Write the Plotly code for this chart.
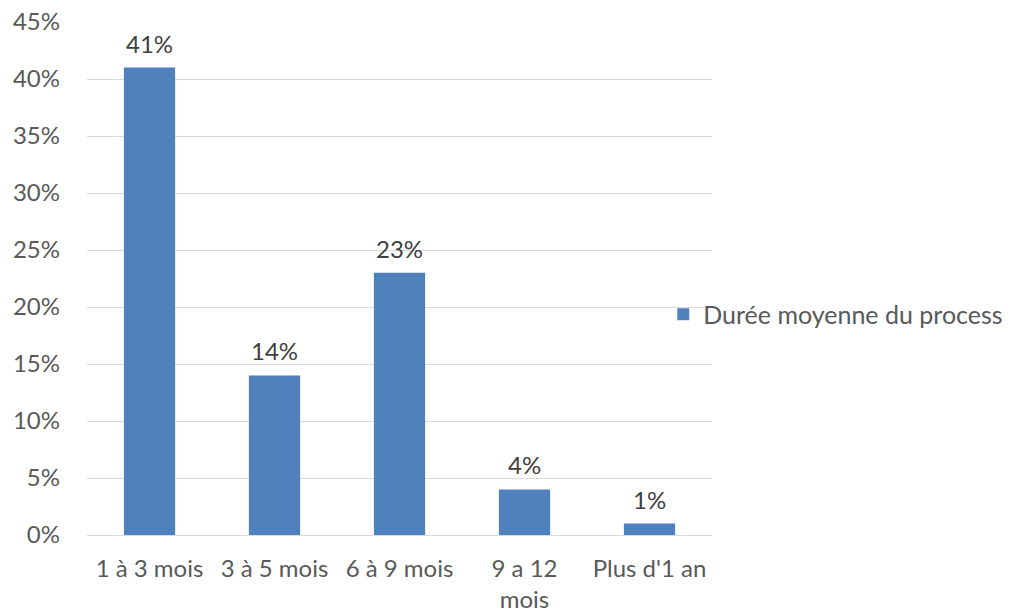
import plotly.graph_objects as go

categories = ["1 à 3 mois", "3 à 5 mois", "6 à 9 mois", "9 a 12<br>mois", "Plus d'1 an"]
values = [0.41, 0.14, 0.23, 0.04, 0.01]
series_name = "Durée moyenne du process"
y_ticks = [0, 0.05, 0.10, 0.15, 0.20, 0.25, 0.30, 0.35, 0.40, 0.45]

font_family = "Lato, 'Open Sans', sans-serif"
font_size = 24

fig = go.Figure(
    go.Bar(
        x=categories,
        y=values,
        name=series_name,
        marker=dict(color="#4f81bd", line=dict(width=0)),
        showlegend=True,
    )
)

# value labels above each bar
for cat, val in zip(categories, values):
    fig.add_annotation(
        x=cat,
        y=val,
        text=f"{val:.0%}",
        showarrow=False,
        yanchor="bottom",
        yshift=8,
        font=dict(size=font_size, color="#404040", family=font_family),
    )

fig.update_layout(
    width=1020,
    height=616,
    margin=dict(l=87, r=308, t=22, b=81, autoexpand=False),
    paper_bgcolor="white",
    plot_bgcolor="white",
    bargap=0.59,
    font=dict(family=font_family, size=font_size, color="#595959"),
    legend=dict(
        x=0.922,
        y=0.43,
        xanchor="left",
        yanchor="middle",
        font=dict(size=font_size + 1, color="#595959", family=font_family),
        itemwidth=30,
        bgcolor="rgba(0,0,0,0)",
    ),
    xaxis=dict(
        automargin=False,
        showline=True,
        linecolor="#d9d9d9",
        linewidth=1,
        ticks="",
        tickangle=0,
        ticklabelstandoff=12,
        tickfont=dict(size=font_size, color="#595959"),
    ),
    yaxis=dict(
        automargin=False,
        range=[0, 0.45],
        tickvals=y_ticks,
        tickformat=".0%",
        showgrid=True,
        gridcolor="#d9d9d9",
        gridwidth=1,
        zeroline=False,
        showline=False,
        ticks="",
        ticklabelstandoff=26,
        tickfont=dict(size=font_size, color="#595959"),
    ),
)

fig.write_html("out.html")
